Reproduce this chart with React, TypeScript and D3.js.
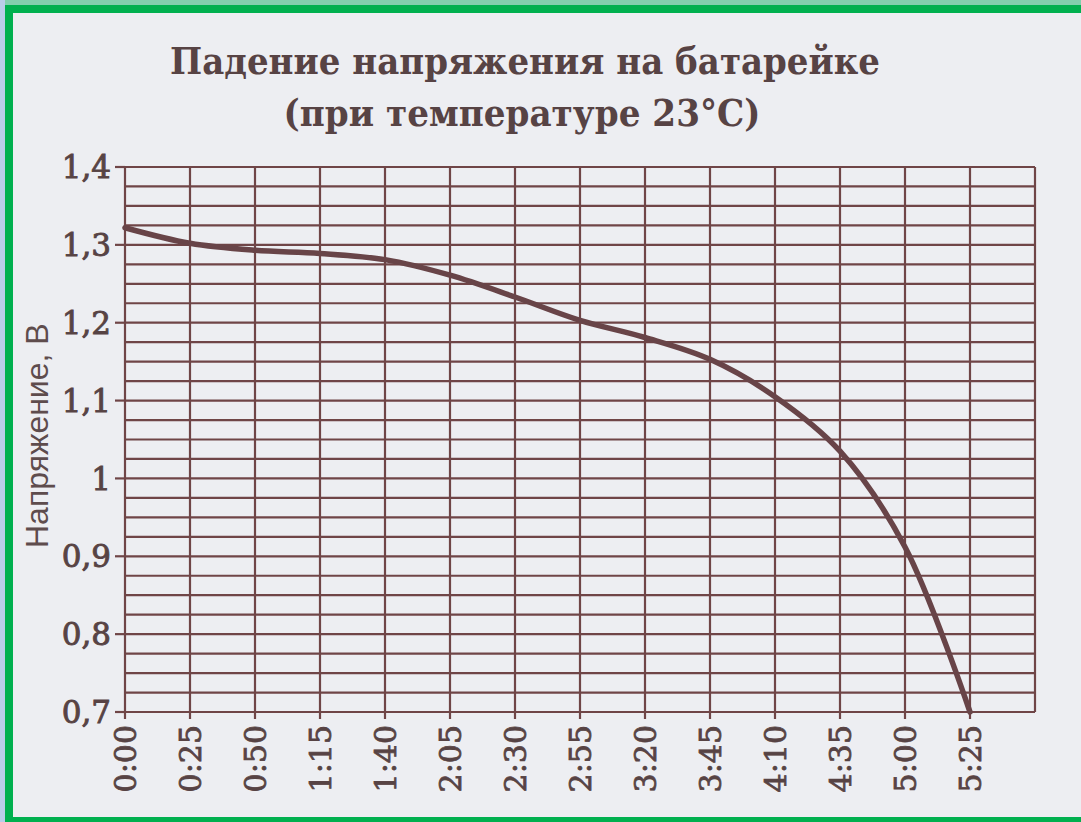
import React from "react";
import * as d3 from "d3";

const titleLines = ["Падение напряжения на батарейке", "(при температуре 23°C)"];
const yAxisTitle = "Напряжение, В";
// minutes since start
const timeTicks = [0, 25, 50, 75, 100, 125, 150, 175, 200, 225, 250, 275, 300, 325];
const timeLabels = ["0:00", "0:25", "0:50", "1:15", "1:40", "2:05", "2:30", "2:55", "3:20", "3:45", "4:10", "4:35", "5:00", "5:25"];
const voltTicks = [0.7, 0.8, 0.9, 1.0, 1.1, 1.2, 1.3, 1.4];
const voltLabels = ["0,7", "0,8", "0,9", "1", "1,1", "1,2", "1,3", "1,4"];
const voltage = [1.322, 1.302, 1.293, 1.289, 1.281, 1.261, 1.233, 1.203, 1.181, 1.153, 1.105, 1.035, 0.912, 0.7];

const W = 1081;
const H = 822;
const M = { left: 125, top: 167, right: 1035, bottom: 712 };
const GRID = "#6f4547";
const TEXT = "#574344";
const CURVE = "#684448";

export default function App() {
  const x = d3.scaleLinear().domain([0, 350]).range([M.left, M.right]);
  const y = d3.scaleLinear().domain([0.7, 1.4]).range([M.bottom, M.top]);
  const vLines = d3.range(0, 351, 25);
  const hLines = d3.range(0, 29).map((k) => 0.7 + k * 0.025);
  const line = d3
    .line<number>()
    .x((_, i) => x(timeTicks[i]))
    .y((d) => y(d))
    .curve(d3.curveCatmullRom.alpha(0.5));

  return (
    <svg width={W} height={H} style={{ position: "absolute", left: 0, top: 0 }}>
      <rect x={0} y={0} width={W} height={H} fill="#edeef2" />
      {/* frame */}
      <rect x={0} y={0} width={W} height={6} fill="#82cfae" />
      <rect x={0} y={0} width={5} height={H} fill="#b9cde9" />
      <rect x={5} y={5} width={W - 5} height={8} fill="#00b04f" />
      <rect x={5} y={5} width={8} height={H - 5} fill="#00b04f" />
      <rect x={5} y={817} width={W - 5} height={5} fill="#00b04f" />

      {/* grid */}
      {hLines.map((v, i) => (
        <line key={"h" + i} x1={M.left} x2={M.right} y1={y(v)} y2={y(v)} stroke={GRID} strokeWidth={2.2} />
      ))}
      {vLines.map((t, i) => (
        <line key={"v" + i} x1={x(t)} x2={x(t)} y1={M.top} y2={M.bottom} stroke={GRID} strokeWidth={2.2} />
      ))}
      {voltTicks.map((v, i) => (
        <line key={"yt" + i} x1={M.left - 10} x2={M.left} y1={y(v)} y2={y(v)} stroke={GRID} strokeWidth={2.2} />
      ))}
      {timeTicks.map((t, i) => (
        <line key={"xt" + i} x1={x(t)} x2={x(t)} y1={M.bottom} y2={M.bottom + 7} stroke={GRID} strokeWidth={2.2} />
      ))}

      {/* curve */}
      <path d={line(voltage) || ""} fill="none" stroke={CURVE} strokeWidth={5.5} strokeLinecap="round" />

      {/* y tick labels */}
      {voltTicks.map((v, i) => (
        <text
          key={"yl" + i}
          x={M.left - 14}
          y={y(v)}
          dy="0.36em"
          textAnchor="end"
          fontFamily="DejaVu Serif"
          fontSize={31}
          fill={TEXT}
          stroke={TEXT}
          strokeWidth={0.9}
        >
          {voltLabels[i]}
        </text>
      ))}
      {/* x tick labels */}
      {timeTicks.map((t, i) => (
        <text
          key={"xl" + i}
          transform={`translate(${x(t)},${M.bottom + 13}) rotate(-90)`}
          dy="0.36em"
          textAnchor="end"
          fontFamily="DejaVu Serif"
          fontSize={30}
          fill={TEXT}
          stroke={TEXT}
          strokeWidth={0.8}
        >
          {timeLabels[i]}
        </text>
      ))}

      {/* axis title */}
      <text
        transform={`translate(48,${548}) rotate(-90)`}
        textAnchor="start"
        fontFamily="Liberation Sans"
        fontSize={32}
        fill="#5e4c4d"
      >
        {yAxisTitle}
      </text>

      {/* title */}
      <text
        x={525}
        y={74}
        textAnchor="middle"
        fontFamily="DejaVu Serif"
        fontWeight="bold"
        fontSize={37}
        fill={TEXT}
        textLength={710}
        lengthAdjust="spacingAndGlyphs"
      >
        {titleLines[0]}
      </text>
      <text
        x={522}
        y={126}
        textAnchor="middle"
        fontFamily="DejaVu Serif"
        fontWeight="bold"
        fontSize={37}
        fill={TEXT}
        textLength={477}
        lengthAdjust="spacingAndGlyphs"
      >
        {titleLines[1]}
      </text>
    </svg>
  );
}
